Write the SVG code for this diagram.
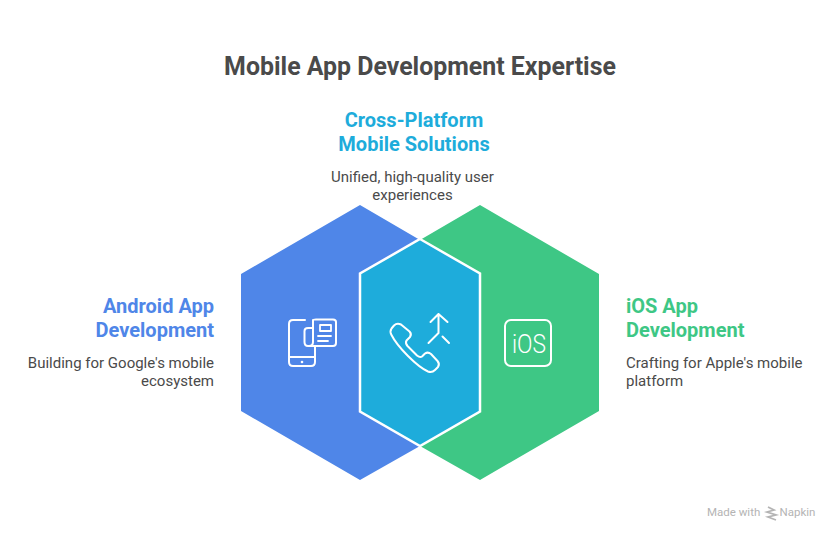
<svg xmlns="http://www.w3.org/2000/svg" width="840" height="540" viewBox="0 0 840 540">
<style>
text{font-family:Roboto,"Liberation Sans",sans-serif}
.t{font-size:24.900px;font-weight:700;fill:#4a4a4a}
.h{font-size:20px;font-weight:700}
.d{font-size:15px;fill:#4a4a4a}
.i{fill:none;stroke:#fff;stroke-width:2;stroke-linejoin:round;stroke-linecap:round}
.m{font-size:11.500px;fill:#b4b4b4}
</style>
<rect width="840" height="540" fill="#fff"/>
<text class="t" x="420" y="75" text-anchor="middle">Mobile App Development Expertise</text>
<g id="android">
<path d="M360 205L420 240L360 274V412L420 446L360 480L241 411V274Z" fill="#4f86e8"/>
<g class="i">
<path d="M305 320H293Q289 320 289 324V362Q289 366 293 366H311Q315 366 315 362V346"/>
<path d="M289 357H315"/>
<path d="M313 328V320Q313 319.500 316 319.500H333Q336 319.500 336 322V343Q336 346 333 346H308Q304.500 346 304.500 342V331Q304.500 328 308 328H313V342Q313 346 309 346"/>
<path d="M320 325H331V331H320ZM318 336H331M318 341H328" stroke-width="1.800"/>
</g>
<circle cx="302" cy="362" r="1.300" fill="#fff"/>
<text class="h" x="214" y="313" text-anchor="end" fill="#4f86e8">Android App</text>
<text class="h" x="214" y="337" text-anchor="end" fill="#4f86e8">Development</text>
<text class="d" x="214" y="368" text-anchor="end">Building for Google's mobile</text>
<text class="d" x="214" y="386" text-anchor="end">ecosystem</text>
</g>
<g id="ios">
<path d="M480 205L599 274V411L480 480L420 446L480 412V274L420 240Z" fill="#3ec785"/>
<rect x="505" y="320" width="46" height="46" rx="6" class="i"/>
<text x="512" y="352.500" font-size="26" fill="#fff" textLength="34" lengthAdjust="spacingAndGlyphs" style="font-weight:300">iOS</text>
<text class="h" x="626" y="313" fill="#3ec785">iOS App</text>
<text class="h" x="626" y="337" fill="#3ec785">Development</text>
<text class="d" x="626" y="368">Crafting for Apple's mobile</text>
<text class="d" x="626" y="386">platform</text>
</g>
<g id="cross">
<path d="M420 239L480 273.500V411.500L420 446L360 411.500V273.500Z" fill="#1eacdb" stroke="#fff" stroke-width="2.500"/>
<g class="i">
<path d="M394 325.500L391.500 328.500Q389.500 331.500 391.500 335Q396 344 408 356Q420 368 428 371.500Q432 373 435 370L438 367Q440 364 437.500 361L431 354Q428 351.500 425 353.500L422 356.500Q420 358 417 355.500L407.500 346Q405 343 406.500 340.500L410 337Q412 334 409.500 331.500L401 324.500Q397 322.500 394 325.500Z"/>
<path d="M428.500 343L438.500 333V314M430.500 322L438.500 314L447.500 322M442.500 336.500L449 343"/>
</g>
<text class="h" x="414" y="127" text-anchor="middle" fill="#1eacdb">Cross-Platform</text>
<text class="h" x="414" y="151" text-anchor="middle" fill="#1eacdb">Mobile Solutions</text>
<text class="d" x="412.500" y="182" text-anchor="middle">Unified, high-quality user</text>
<text class="d" x="412.500" y="200" text-anchor="middle">experiences</text>
</g>
<g id="credit">
<text class="m" x="707" y="516">Made with</text>
<path d="M768 507L774 510L767 512L776 515L768 517L776 520" fill="none" stroke="#b4b4b4" stroke-width="1.800"/>
<text class="m" x="779.500" y="516">Napkin</text>
</g>
</svg>
